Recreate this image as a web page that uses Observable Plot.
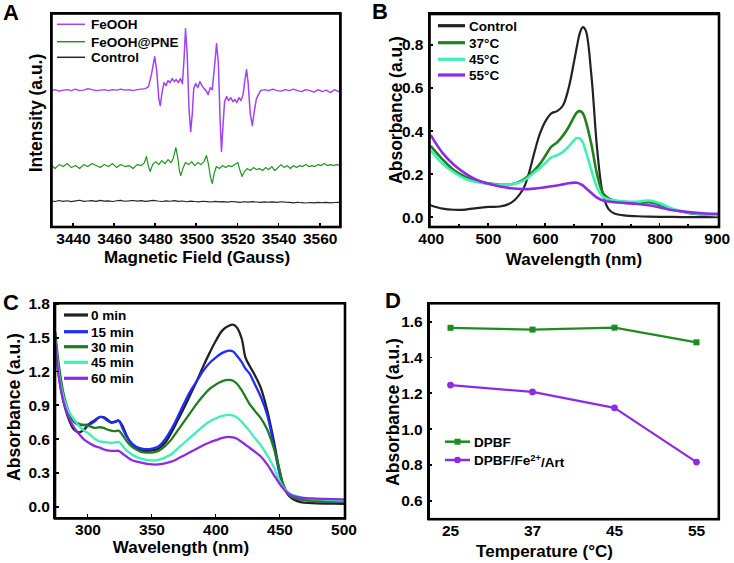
<!DOCTYPE html>
<html><head><meta charset="utf-8">
<script src="https://cdn.jsdelivr.net/npm/d3@7"></script>
<script src="https://cdn.jsdelivr.net/npm/@observablehq/plot@0.6"></script>
<style>
body{margin:0;background:#fff;}
#wrap{position:relative;width:734px;height:563px;overflow:hidden;background:#fff;}
#wrap svg{font-family:'Liberation Sans',Arial,Helvetica,sans-serif;font-size:15.5px;font-weight:bold;}
.fr{position:absolute;box-sizing:border-box;border:2.6px solid #000;pointer-events:none;}
.tk{position:absolute;background:#000;pointer-events:none;}
</style></head><body><div id="wrap"></div>
<script>
// ---------- Panel A: EPR spectra ----------
const aSeries = ["FeOOH", "FeOOH@PNE", "Control"];
const aTickValues = [3440, 3460, 3480, 3500, 3520, 3540, 3560];
const feoohField = [3429.5,3431,3433,3435,3437,3439,3441,3443,3445,3447,3449,3451,3453,3455,3457,3459,3461,3463,3465,3467,3469,3471,3473,3475,3476.5,3478,3479.5,3480.5,3481.5,3482.2,3483,3484,3485,3486,3487,3488,3489,3490,3491,3492,3493,3493.8,3494.5,3495.3,3496.2,3497,3497.8,3498.5,3499.5,3500.5,3501.5,3502.5,3503.5,3504.5,3505.5,3506.5,3507.5,3508.5,3509.6,3510.5,3511.3,3512,3512.8,3513.5,3514.5,3515.5,3516.5,3517.5,3518.5,3519.5,3520.5,3521.5,3522.5,3523.5,3524.2,3525,3526,3527,3528,3529,3530,3531,3533,3535,3537,3539,3541,3543,3545,3547,3549,3551,3553,3555,3557,3559,3561,3563,3565,3567,3569,3569.8];
const feoohIntensity = [138,139,137.5,138.5,139,138,139.5,138,138.5,140,139,138,138.5,139,138,139,138.5,139.5,138.5,139,138,139,139.5,140,142,155,172,158,130,123,135,146,143,148,146,150,147,149,146,150,145,170,200,175,120,97,115,140,145,141,147,143,140,138,134,141,139,160,185,165,110,77,105,127,132,128,131,127,129,126,131,128,134,150,159,145,115,103,118,130,134,138,139,138,139.5,138,137.5,139,138,139.5,138,137,139,138,136.5,139,137,138.5,136,139,137,138];
const pneField = [3429.5,3431,3433,3435,3437,3439,3441,3443,3445,3447,3449,3451,3453,3455,3457,3459,3461,3463,3465,3467,3469,3471,3473,3474.5,3475.5,3476.5,3477.3,3478.5,3480,3481.5,3483,3484.5,3486,3487.5,3488.5,3489.8,3490.8,3491.5,3492.2,3493.2,3494.5,3496,3497.5,3499,3500.5,3502,3503.5,3504.7,3505.6,3506.6,3507.5,3508.4,3509.5,3511,3512.5,3514,3515.5,3517,3518.5,3520,3521,3522,3523.2,3524.5,3526,3527.5,3529,3530.5,3532,3533.5,3535,3536.5,3538,3539.5,3541,3542.5,3544,3545.5,3547,3548.5,3550,3551.5,3553,3554.5,3556,3557.5,3559,3560.5,3562,3563.5,3565,3566.5,3568,3569.8];
const pneIntensity = [63,60,64,62,65,61,63,60,64,62,65,63,61,64,62,65,61,64,62,63,60,64,63,66,72,62,57,64,67,64,68,65,69,66,70,81,70,58,53,60,66,64,67,63,66,64,67,73,65,52,45,55,62,60,63,61,63,62,64,66,58,52,57,60,58,61,59,60,58,61,59,62,58,61,64,61,63,60,63,61,63,62,64,62,63,62,64,63,65,63,64,63,64,63];
const controlAField = [3429.5,3431,3433,3435,3437,3439,3441,3443,3445,3447,3449,3451,3453,3455,3457,3459,3461,3463,3465,3467,3469,3471,3473,3475,3477,3479,3481,3483,3485,3487,3489,3491,3493,3495,3497,3499,3501,3503,3505,3507,3509,3511,3513,3515,3517,3519,3521,3523,3525,3527,3529,3531,3533,3535,3537,3539,3541,3543,3545,3547,3549,3551,3553,3555,3557,3559,3561,3563,3565,3567,3569];
const controlAIntensity = [27.5,27,28,27.2,27.8,26.9,27.6,28.3,27.1,27.5,27.9,27.2,28.2,27.4,27.7,27,27.8,28.1,27.3,27.6,28,27.4,27.9,27.2,27.7,28.2,27.5,27,27.6,27.3,27.9,27.1,27.5,26.8,27.4,27,26.6,27.3,26.9,26.5,27.1,26.7,26.9,26.4,27,26.6,26.2,26.8,26.4,26.9,26.5,26.1,26.7,26.3,26.6,26.2,26.8,26.4,26.1,25.7,26.3,25.8,25.5,26,25.6,26.2,25.8,26.1,25.7,26,26.2];

// ---------- Panel B: absorbance vs wavelength at temperatures ----------
const bSeries = ["Control", "37°C", "45°C", "55°C"];
const bXTicks = [400, 500, 600, 700, 800, 900];
const bYTicks = [0, 0.2, 0.4, 0.6, 0.8];
const bWave = [400,420,440,460,480,500,520,540,560,570,580,590,600,610,620,630,640,650,655,660,665,670,680,690,700,710,720,740,760,780,800,820,850,880,900];
const bControl = [0.057,0.042,0.037,0.038,0.045,0.05,0.052,0.07,0.13,0.2,0.3,0.39,0.45,0.485,0.495,0.52,0.6,0.73,0.8,0.86,0.885,0.87,0.66,0.32,0.11,0.04,0.02,0.01,0.007,0.005,0.004,0.004,0.003,0.003,0.003];
const b37 = [0.33,0.27,0.22,0.19,0.17,0.16,0.153,0.155,0.175,0.195,0.22,0.25,0.29,0.33,0.35,0.38,0.42,0.47,0.49,0.495,0.485,0.45,0.34,0.2,0.115,0.09,0.08,0.072,0.068,0.072,0.06,0.04,0.022,0.014,0.011];
const b45 = [0.31,0.25,0.21,0.18,0.165,0.158,0.152,0.155,0.17,0.188,0.21,0.23,0.255,0.28,0.29,0.305,0.33,0.36,0.37,0.367,0.35,0.31,0.22,0.14,0.097,0.085,0.08,0.075,0.074,0.08,0.067,0.043,0.024,0.015,0.012];
const b55 = [0.38,0.30,0.245,0.205,0.175,0.158,0.145,0.137,0.133,0.133,0.135,0.138,0.142,0.146,0.15,0.155,0.16,0.163,0.162,0.157,0.15,0.138,0.115,0.093,0.08,0.075,0.072,0.068,0.064,0.058,0.048,0.036,0.026,0.02,0.018];

// ---------- Panel C: absorbance vs wavelength over time ----------
const cSeries = ["0 min", "15 min", "30 min", "45 min", "60 min"];
const cXTicks = [300, 350, 400, 450, 500];
const cYTicks = [0, 0.3, 0.6, 0.9, 1.2, 1.5, 1.8];
const cWave = [274.5,277,281,285,289,293,297,301,305,309,312,315,318,321,324,327,330,334,338,342,346,350,355,360,365,370,375,380,385,390,395,400,405,410,413,416,420,423,426,430,435,440,445,449,453,458,466,475,485,500];
const c0 = [1.45,1.18,0.93,0.78,0.69,0.665,0.69,0.74,0.77,0.8,0.8,0.78,0.755,0.76,0.77,0.72,0.64,0.56,0.52,0.505,0.5,0.505,0.52,0.57,0.66,0.77,0.88,1.0,1.12,1.25,1.37,1.48,1.57,1.61,1.62,1.6,1.5,1.33,1.26,1.18,1.06,0.86,0.6,0.36,0.18,0.09,0.045,0.037,0.033,0.03];
const c15 = [1.5,1.25,0.98,0.84,0.76,0.73,0.73,0.735,0.76,0.8,0.795,0.77,0.75,0.755,0.765,0.7,0.63,0.57,0.535,0.52,0.515,0.52,0.54,0.6,0.69,0.8,0.92,1.03,1.12,1.21,1.28,1.33,1.37,1.39,1.385,1.35,1.29,1.23,1.19,1.1,0.98,0.82,0.56,0.33,0.18,0.1,0.07,0.06,0.055,0.05];
const c30 = [1.55,1.28,1.0,0.85,0.77,0.74,0.73,0.72,0.705,0.71,0.705,0.69,0.68,0.675,0.68,0.64,0.59,0.54,0.51,0.49,0.485,0.485,0.5,0.54,0.6,0.68,0.76,0.84,0.92,0.99,1.05,1.09,1.12,1.13,1.125,1.1,1.04,0.98,0.92,0.86,0.79,0.69,0.53,0.36,0.19,0.1,0.07,0.06,0.055,0.05];
const c45 = [1.48,1.2,0.97,0.85,0.78,0.72,0.68,0.65,0.61,0.585,0.58,0.575,0.57,0.575,0.58,0.545,0.505,0.47,0.445,0.43,0.42,0.415,0.42,0.44,0.47,0.52,0.57,0.62,0.67,0.72,0.76,0.79,0.81,0.82,0.815,0.8,0.76,0.72,0.68,0.62,0.55,0.46,0.36,0.25,0.17,0.12,0.09,0.075,0.068,0.06];
const c60 = [1.45,1.17,0.93,0.8,0.71,0.65,0.6,0.57,0.545,0.53,0.515,0.505,0.5,0.5,0.5,0.475,0.45,0.42,0.405,0.395,0.385,0.38,0.38,0.39,0.405,0.43,0.46,0.49,0.52,0.55,0.575,0.595,0.615,0.625,0.62,0.61,0.58,0.555,0.53,0.495,0.45,0.38,0.29,0.22,0.16,0.11,0.085,0.078,0.074,0.07];

// ---------- Panel D: absorbance vs temperature ----------
const dSeries = ["DPBF", "DPBF/Fe2+/Art"];
const dTemps = ["25", "37", "45", "55"];
const dYTicks = [0.6, 0.8, 1.0, 1.2, 1.4, 1.6];
const dDPBF = [1.569, 1.559, 1.57, 1.488];
const dArt = [1.249, 1.211, 1.122, 0.819];

// ---------- helpers ----------
const wrap = document.getElementById("wrap");
const FONT = "'Liberation Sans', Arial, Helvetica, sans-serif";
const rows = (xs, ys) => xs.map((x, i) => ({x, y: ys[i]}));
const overlays = [];

function makePanel(cfg) {
  const {left, top, width, height, mL, mR, mT, mB} = cfg;
  const p = Plot.plot({
    width, height, marginLeft: mL, marginRight: mR, marginTop: mT, marginBottom: mB,
    x: cfg.x, y: cfg.y,
    marks: [...cfg.marks, Plot.frame({stroke: "black", strokeWidth: 2.6})]
  });
  p.style.position = "absolute";
  p.style.left = left + "px";
  p.style.top = top + "px";
  p.style.background = "none";
  wrap.appendChild(p);
  const svg = d3.select(p);
  const sx = p.scale("x"), sy = p.scale("y");
  const fb = height - mB, fl = mL, ft = mT, fr = width - mR;
  // frame + inner ticks as overlay boxes, positioned from Plot's layout and scales
  const bw = 2.6;
  overlays.push({cls: "fr", l: left + fl - bw / 2, t: top + ft - bw / 2, w: fr - fl + bw, h: fb - ft + bw});
  for (const [v, len] of (cfg.xTicks || [])) {
    const px = sx.apply(v);
    overlays.push({cls: "tk", l: left + px - 0.9, t: top + fb - len, w: 1.8, h: len});
  }
  for (const [v, len] of (cfg.yTicks || [])) {
    const py = sy.apply(v);
    overlays.push({cls: "tk", l: left + fl, t: top + py - 0.9, w: len, h: 1.8});
  }
  const T = svg.append("g").attr("font-family", FONT).attr("font-weight", "bold").attr("fill", "#000");
  T.append("text").attr("x", cfg.xTitle.x).attr("y", cfg.xTitle.y).attr("text-anchor", "middle")
    .attr("font-size", cfg.xTitle.size).text(cfg.xTitle.text);
  T.append("text").attr("transform", `translate(${cfg.yTitle.x},${cfg.yTitle.y}) rotate(-90)`)
    .attr("text-anchor", "middle").attr("dy", "0.35em").attr("font-size", cfg.yTitle.size).text(cfg.yTitle.text);
  T.append("text").attr("x", cfg.letter.x).attr("y", cfg.letter.y).attr("text-anchor", "start")
    .attr("font-size", 22).text(cfg.letter.text);
  const L = cfg.legend;
  const lg = svg.append("g").attr("font-family", FONT).attr("font-weight", "bold")
    .attr("font-size", L.size).attr("text-anchor", "start");
  L.items.forEach((it, i) => {
    const y = L.ys[i];
    lg.append("line").attr("x1", L.x1).attr("x2", L.x2).attr("y1", y).attr("y2", y)
      .attr("stroke", it.color).attr("stroke-width", L.lw);
    if (it.marker === "square") {
      lg.append("rect").attr("x", (L.x1 + L.x2) / 2 - 3).attr("y", y - 3).attr("width", 6).attr("height", 6).attr("fill", it.color);
    } else if (it.marker === "circle") {
      lg.append("circle").attr("cx", (L.x1 + L.x2) / 2).attr("cy", y).attr("r", 3.3).attr("fill", it.color);
    }
    const t = lg.append("text").attr("x", L.tx).attr("y", y).attr("dy", "0.36em").attr("fill", "#000")
      .attr("text-anchor", "start");
    const m = it.label.match(/^(.*Fe)(2\+)(.*)$/);
    if (m) {
      t.append("tspan").text(m[1]);
      t.append("tspan").attr("dy", "-0.45em").attr("font-size", "70%").text(m[2]);
      t.append("tspan").attr("dy", "0.45em").text(m[3]);
    } else t.text(it.label);
  });
  return p;
}

// ---------- Panel A ----------
const colA = ["#a142f4", "#1e961e", "#262626"];
makePanel({
  left: 0, top: 0, width: 367, height: 280, mL: 51, mR: 27, mT: 13, mB: 53.5,
  x: {domain: [3429.3, 3569.9]},
  y: {domain: [1.5, 215.2], axis: null},
  marks: [
    Plot.line(rows(controlAField, controlAIntensity), {x: "x", y: "y", stroke: colA[2], strokeWidth: 1.2}),
    Plot.line(rows(pneField, pneIntensity), {x: "x", y: "y", stroke: colA[1], strokeWidth: 1.2}),
    Plot.line(rows(feoohField, feoohIntensity), {x: "x", y: "y", stroke: colA[0], strokeWidth: 1.5}),
    Plot.axisX({ticks: aTickValues, tickSize: 0, tickPadding: 6, tickFormat: "d", label: null})
  ],
  xTicks: aTickValues.map(v => [v, 4]),
  xTitle: {x: 197, y: 263, size: 17, text: "Magnetic Field (Gauss)"},
  yTitle: {x: 35.5, y: 113, size: 17.5, text: "Intensity (a.u.)"},
  letter: {x: 3, y: 20, text: "A"},
  legend: {x1: 57, x2: 85, tx: 91, ys: [24.3, 41.7, 57.3], size: 13.5, lw: 1.5,
    items: aSeries.map((s, i) => ({label: s, color: colA[i]}))}
});

// ---------- Panel B ----------
const colB = ["#222222", "#1f821f", "#3ff0b4", "#8c2be6"];
const bVals = [bControl, b37, b45, b55];
makePanel({
  left: 367, top: 0, width: 367, height: 280, mL: 62, mR: 15.5, mT: 13.5, mB: 53.5,
  x: {domain: [397, 903]},
  y: {domain: [-0.043, 0.946]},
  marks: [
    ...bVals.map((vals, i) => Plot.line(rows(bWave, vals), {x: "x", y: "y", stroke: colB[i], strokeWidth: i === 0 ? 2.2 : 2.6, curve: "catmull-rom"})),
    Plot.axisX({ticks: bXTicks, tickSize: 0, tickPadding: 6, tickFormat: "d", label: null}),
    Plot.axisY({ticks: bYTicks, tickSize: 0, tickPadding: 6, tickFormat: ".1f", label: null})
  ],
  xTicks: [450, 500, 550, 600, 650, 700, 750, 800, 850].map(v => [v, v % 100 === 0 ? 4 : 3]),
  yTicks: bYTicks.map(v => [v, 4]),
  xTitle: {x: 207, y: 265, size: 17, text: "Wavelength (nm)"},
  yTitle: {x: 29, y: 110, size: 17.5, text: "Absorbance (a.u.)"},
  letter: {x: 5, y: 19, text: "B"},
  legend: {x1: 71, x2: 98, tx: 102, ys: [25.7, 42.7, 59.3, 75], size: 13.5, lw: 3.2,
    items: bSeries.map((s, i) => ({label: s, color: colB[i]}))}
});

// ---------- Panel C ----------
const colC = ["#222222", "#1f2bff", "#1f7d1f", "#3ff0b4", "#8c2be6"];
const cVals = [c0, c15, c30, c45, c60];
makePanel({
  left: 0, top: 280, width: 367, height: 283, mL: 54.5, mR: 22.5, mT: 22.8, mB: 45,
  x: {domain: [274.2, 500.8]},
  y: {domain: [-0.1, 1.81]},
  marks: [
    ...cVals.map((vals, i) => Plot.line(rows(cWave, vals), {x: "x", y: "y", stroke: colC[i], strokeWidth: 2.3, curve: "catmull-rom"})),
    Plot.axisX({ticks: cXTicks, tickSize: 0, tickPadding: 5, tickFormat: "d", label: null}),
    Plot.axisY({ticks: cYTicks, tickSize: 0, tickPadding: 5, tickFormat: ".1f", label: null})
  ],
  xTicks: [300, 350, 400, 450].map(v => [v, 4]),
  yTicks: cYTicks.map(v => [v, 4]),
  xTitle: {x: 181, y: 273, size: 17, text: "Wavelength (nm)"},
  yTitle: {x: 14, y: 127, size: 17.5, text: "Absorbance (a.u.)"},
  letter: {x: 3, y: 30, text: "C"},
  legend: {x1: 64, x2: 88, tx: 91, ys: [35, 51.7, 66.7, 82.3, 98.3], size: 13.5, lw: 3.2,
    items: cSeries.map((s, i) => ({label: s, color: colC[i]}))}
});

// ---------- Panel D ----------
const colD = ["#1f8c1f", "#8c2be6"];
makePanel({
  left: 367, top: 280, width: 367, height: 283, mL: 61.2, mR: 15.7, mT: 22.8, mB: 44.3,
  x: {type: "point", domain: dTemps, padding: 0.26},
  y: {domain: [0.5, 1.706]},
  marks: [
    Plot.line(rows(dTemps, dDPBF), {x: "x", y: "y", stroke: colD[0], strokeWidth: 2.2}),
    Plot.dot(rows(dTemps, dDPBF), {x: "x", y: "y", fill: colD[0], symbol: "square", r: 3.4}),
    Plot.line(rows(dTemps, dArt), {x: "x", y: "y", stroke: colD[1], strokeWidth: 2.2}),
    Plot.dot(rows(dTemps, dArt), {x: "x", y: "y", fill: colD[1], symbol: "circle", r: 3.4}),
    Plot.axisX({tickSize: 0, tickPadding: 6, label: null}),
    Plot.axisY({ticks: dYTicks, tickSize: 0, tickPadding: 6, tickFormat: ".1f", label: null})
  ],
  yTicks: dYTicks.map(v => [v, 4]),
  xTitle: {x: 177.5, y: 276.5, size: 17, text: "Temperature (°C)"},
  yTitle: {x: 25.5, y: 132, size: 17.5, text: "Absorbance (a.u.)"},
  letter: {x: 18, y: 28, text: "D"},
  legend: {x1: 78, x2: 103, tx: 107, ys: [161.7, 180], size: 13.5, lw: 2.5,
    items: dSeries.map((s, i) => ({label: s, color: colD[i], marker: i === 0 ? "square" : "circle"}))}
});

// overlay frames and inner ticks on top of the plots
for (const o of overlays) {
  const d = document.createElement("div");
  d.className = o.cls;
  d.style.left = o.l + "px"; d.style.top = o.t + "px";
  d.style.width = o.w + "px"; d.style.height = o.h + "px";
  wrap.appendChild(d);
}
</script></body></html>
